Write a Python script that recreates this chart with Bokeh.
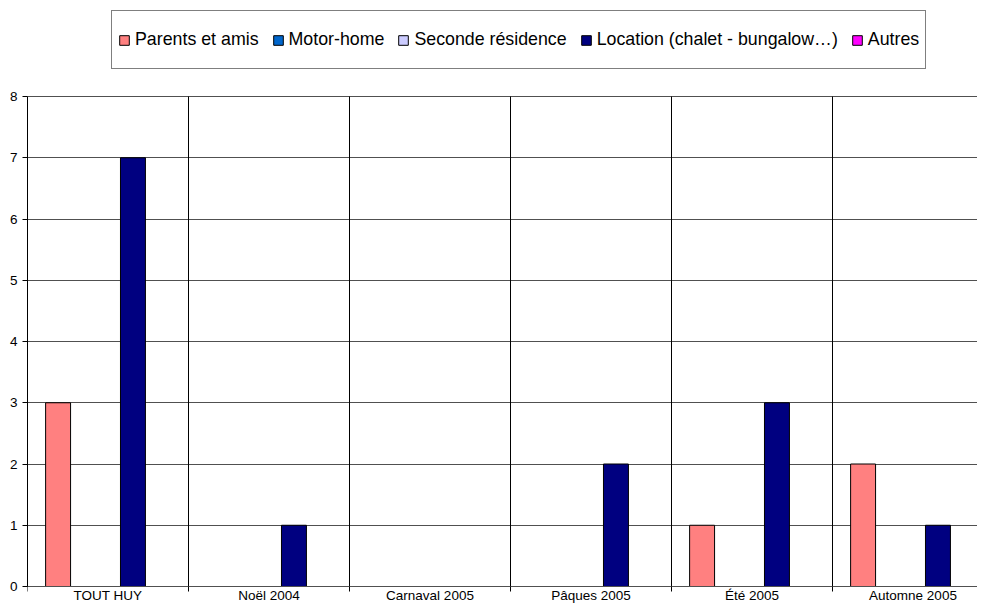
from bokeh.plotting import figure
from bokeh.models import (Range1d, FixedTicker, Legend, LegendItem,
                          ColumnDataSource)
from bokeh.transform import dodge
from bokeh.embed import file_html
from bokeh.resources import INLINE

# ---- data ----
categories = ["TOUT HUY", "Noël 2004", "Carnaval 2005", "Pâques 2005", "Été 2005", "Automne 2005"]
series_names = ["Parents et amis", "Motor-home", "Seconde résidence",
                "Location (chalet - bungalow…)", "Autres"]
parents = [3, 0, 0, 0, 1, 2]
motor_home = [0, 0, 0, 0, 0, 0]
seconde = [0, 0, 0, 0, 0, 0]
location = [7, 1, 0, 2, 3, 1]
autres = [0, 0, 0, 0, 0, 0]
y_ticks = [0, 1, 2, 3, 4, 5, 6, 7, 8]

series_values = [parents, motor_home, seconde, location, autres]
colors = ["#FF8080", "#0066CC", "#CCCCFF", "#000080", "#FF00FF"]

FONT = "Liberation Sans"

centers = [i + 0.5 for i in range(len(categories))]
bounds = list(range(len(categories) + 1))
y_max = y_ticks[-1]

W, H = 977, 604
FL = 27                    # left border (y axis)
FW, FH = W - FL, H         # frame size
CAT_PX = 161
UNIT_PX = 490 / 8
Y0_PX = 586                # canvas y of value 0

p = figure(width=W, height=H, output_backend="svg", toolbar_location=None,
           x_range=Range1d(0, FW / CAT_PX),
           y_range=Range1d(-(H - Y0_PX) / UNIT_PX, Y0_PX / UNIT_PX),
           min_border_left=FL, min_border_right=0, min_border_top=0,
           min_border_bottom=0)
p.outline_line_color = None
p.background_fill_color = "white"
p.border_fill_color = "white"

data = {"x": centers}
for i, vals in enumerate(series_values):
    data[f"s{i}"] = vals
src = ColumnDataSource(data)

# category separators
p.segment(x0=bounds, x1=bounds, y0=[0] * len(bounds), y1=[y_max] * len(bounds),
          line_color="black", line_width=1)

bw = 0.155
items = []
for i, name in enumerate(series_names):
    r = p.vbar(x=dodge("x", (i - 2) * bw, range=p.x_range), top=f"s{i}", width=bw,
               bottom=0, source=src, fill_color=colors[i], line_color="black",
               line_width=1)
    items.append(LegendItem(label=name, renderers=[r]))

# grids
p.xgrid.visible = False
p.ygrid.ticker = FixedTicker(ticks=y_ticks)
p.ygrid.grid_line_color = "#505050"
p.ygrid.grid_line_width = 1

# x axis, drawn at value 0 inside the frame
xa = p.xaxis[0]
xa.fixed_location = 0
xa.ticker = FixedTicker(ticks=centers, minor_ticks=bounds)
xa.major_label_overrides = {c: lab for c, lab in zip(centers, categories)}
xa.major_tick_out = 0
xa.major_tick_in = 0
xa.minor_tick_out = 5
xa.minor_tick_in = 0
xa.minor_tick_line_color = "black"
xa.axis_line_color = "#505050"
xa.major_label_text_font = FONT
xa.major_label_text_font_size = "13.5px"
xa.major_label_text_color = "black"
xa.major_label_standoff = -4

# y axis
ya = p.yaxis[0]
ya.ticker = FixedTicker(ticks=y_ticks)
ya.bounds = (0, y_max)
ya.major_tick_out = 5
ya.major_tick_in = 0
ya.minor_tick_out = 0
ya.minor_tick_in = 0
ya.axis_line_color = "black"
ya.major_tick_line_color = "black"
ya.major_label_text_font = FONT
ya.major_label_text_font_size = "13.5px"
ya.major_label_text_color = "black"
ya.major_label_standoff = 5

legend = Legend(items=items, orientation="horizontal", location=(84, FH - 69),
                margin=0, padding=6, spacing=13, label_standoff=5,
                glyph_width=12, glyph_height=12, label_height=45,
                label_text_font=FONT, label_text_font_size="17.8px",
                label_text_color="black", border_line_color="black",
                border_line_width=1, background_fill_color="white",
                background_fill_alpha=1)
p.add_layout(legend, "center")

open("out.html", "w").write(file_html(p, INLINE))
